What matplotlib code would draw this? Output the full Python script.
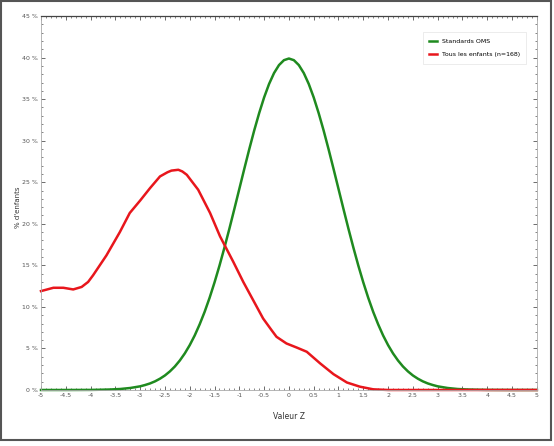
import matplotlib.pyplot as plt
from matplotlib.patches import Rectangle
from matplotlib.ticker import MultipleLocator, FuncFormatter

# Standards OMS (right half, mirrored for the left)
z_half = [0.0, 0.1, 0.2, 0.3, 0.4, 0.5, 0.6, 0.7, 0.8, 0.9, 1.0,
          1.1, 1.2, 1.3, 1.4, 1.5, 1.6, 1.7, 1.8, 1.9, 2.0,
          2.1, 2.2, 2.3, 2.4, 2.5, 2.6, 2.7, 2.8, 2.9, 3.0,
          3.2, 3.4, 3.6, 3.8, 4.0, 4.5, 5.0]
pct_half = [39.89, 39.69, 39.10, 38.14, 36.83, 35.21, 33.32, 31.23, 28.97, 26.61, 24.20,
            21.79, 19.42, 17.14, 14.97, 12.95, 11.09, 9.40, 7.90, 6.56, 5.40,
            4.40, 3.55, 2.83, 2.24, 1.75, 1.36, 1.04, 0.79, 0.60, 0.44,
            0.24, 0.12, 0.06, 0.03, 0.01, 0.0, 0.0]
z_oms = [-z for z in z_half[:0:-1]] + z_half
pct_oms = pct_half[:0:-1] + pct_half

# Tous les enfants
z_all = [-5.0, -4.75, -4.55, -4.35, -4.18, -4.05, -3.95, -3.68, -3.41, -3.21, -3.0,
         -2.8, -2.6, -2.45, -2.37, -2.23, -2.15, -2.06, -1.83, -1.59, -1.39, -1.12, -0.92,
         -0.72, -0.52, -0.35, -0.25, -0.05, 0.16, 0.36, 0.63, 0.9, 1.17, 1.43,
         1.7, 2.0, 3.0, 4.0, 5.0]
pct_all = [11.9, 12.3, 12.3, 12.1, 12.4, 13.0, 13.8, 16.2, 19.0, 21.3, 22.8,
           24.3, 25.7, 26.2, 26.4, 26.5, 26.3, 25.9, 24.1, 21.3, 18.5, 15.4, 13.0,
           10.8, 8.6, 7.2, 6.4, 5.6, 5.1, 4.6, 3.2, 1.9, 0.9, 0.4,
           0.08, 0.0, 0.0, 0.0, 0.0]

fig = plt.figure(figsize=(5.54, 4.46), dpi=100)
ax = fig.add_axes([0.074, 0.1256, 0.895, 0.8384])

ax.plot(z_oms, pct_oms, color='#1f8a1f', linewidth=1.8, label='Standards OMS', clip_on=False)
ax.plot(z_all, pct_all, color='#e8161c', linewidth=1.8, label='Tous les enfants (n=168)', clip_on=False)

ax.set_xlim(-5, 5)
ax.set_ylim(0, 45)
ax.xaxis.set_major_locator(MultipleLocator(0.5))
ax.xaxis.set_minor_locator(MultipleLocator(0.1))
ax.yaxis.set_major_locator(MultipleLocator(5))
ax.yaxis.set_minor_locator(MultipleLocator(1))
ax.xaxis.set_major_formatter(FuncFormatter(lambda v, p: f'{v:g}'))
ax.yaxis.set_major_formatter(FuncFormatter(lambda v, p: f'{v:g} %'))
ax.tick_params(which='both', direction='in', top=True, right=True,
               labelsize=4.5, colors='#555555', pad=2)
ax.tick_params(which='major', length=3, width=0.6)
ax.tick_params(which='minor', length=1.5, width=0.5)
for side in ['left', 'right', 'bottom']:
    ax.spines[side].set_color('#aaaaaa')
    ax.spines[side].set_linewidth(0.6)
ax.spines['top'].set_color('#444444')
ax.spines['top'].set_linewidth(0.9)

ax.set_xlabel('Valeur Z', fontsize=5.5, color='#333333', labelpad=10)
ax.set_ylabel("% d'enfants", fontsize=5, color='#333333', labelpad=-1)
ax.yaxis.set_label_coords(-0.04, 0.49)

leg = ax.legend(loc='upper right', bbox_to_anchor=(0.985, 0.965), fontsize=4.5,
                frameon=True, fancybox=False, handlelength=1.3, borderpad=1.0,
                labelspacing=1.3)
leg.get_frame().set_edgecolor('#dddddd')
leg.get_frame().set_linewidth(0.5)

fig.patches.append(Rectangle((0.002, 0.013), 0.993, 0.984, transform=fig.transFigure,
                             fill=False, edgecolor='#555555', linewidth=1.5))

plt.savefig('out.png', dpi=100)
